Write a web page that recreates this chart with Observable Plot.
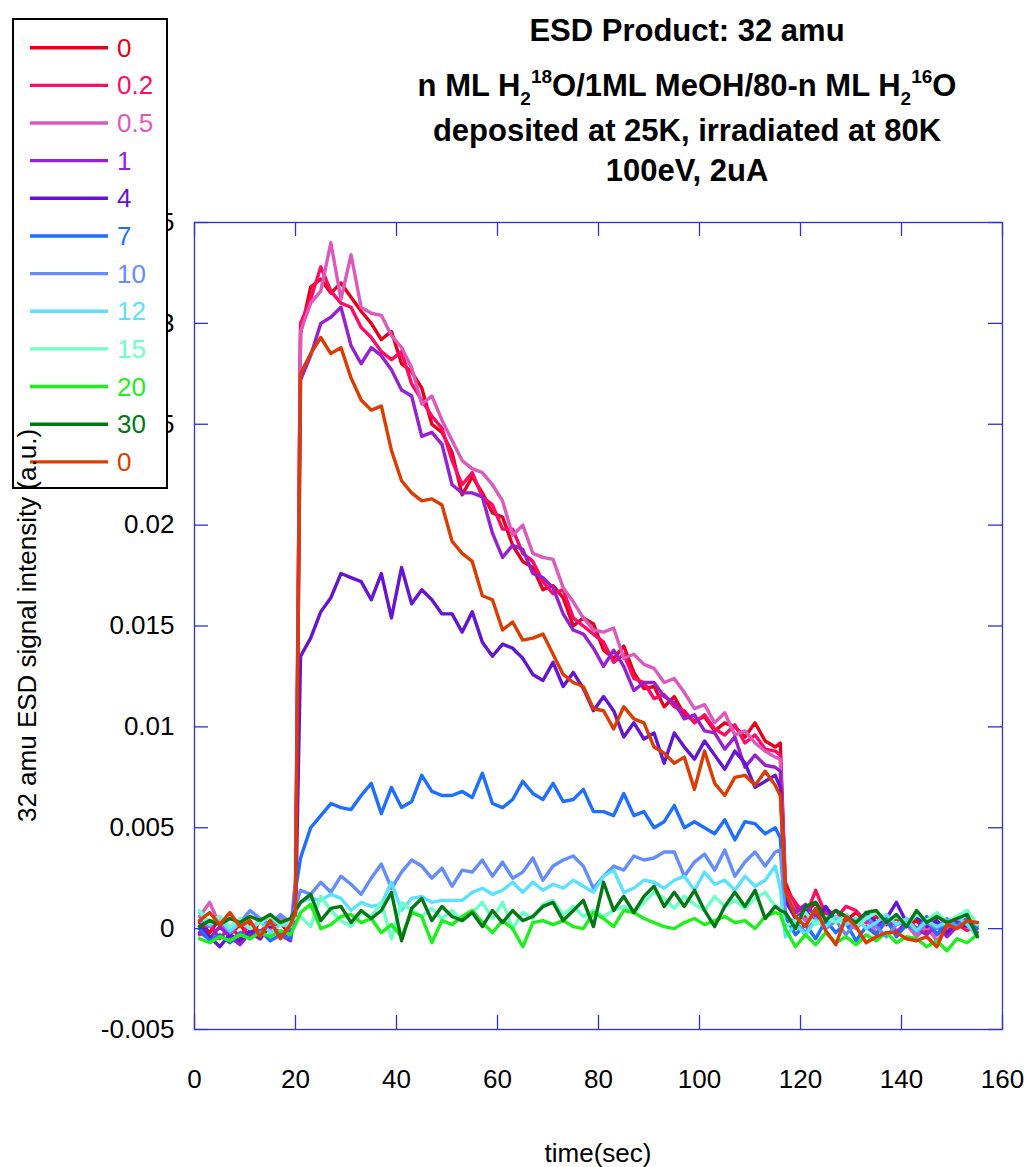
<!DOCTYPE html>
<html><head><meta charset="utf-8">
<script src="https://cdn.jsdelivr.net/npm/d3@7"></script>
<script src="https://cdn.jsdelivr.net/npm/@observablehq/plot@0.6"></script>
<style>
html,body{margin:0;padding:0;background:#fff;}
#chart{width:1028px;height:1167px;}
svg{display:block;}
</style></head><body><div id="chart"></div>
<script>
// time (sec)
const times = [1,3,5,7,9,11,13,15,17,19,20,
21,23,25,27,29,31,33,35,37,39,41,43,45,47,49,51,53,55,57,59,61,63,65,67,69,71,73,75,77,79,81,83,85,87,89,91,93,95,97,99,101,103,105,107,109,111,113,115,
116,117,119,121,123,125,127,129,131,133,135,137,139,141,143,145,147,149,151,153,155];

// series labels (n ML) and colours
const labels = ["0","0.2","0.5","1","4","7","10","12","15","20","30","0"];
const colors = ["#e6001a","#ff0a64","#dc5abe","#9620d2","#6414d2","#1e6eff","#648cff","#5ae1ff","#6effc8","#1ef01e","#007814","#dc3c00"];

// signal values in units of 0.001 (a.u.)
const UNIT = 0.001;
const y0 = [0.3,-0.2,0.5,-0.3,0.2,-0.4,0.4,-0.2,0.3,-0.3, 1.0,
29.5,31.8,32.2,31.5,32.0,31.3,30.6,30.0,
29.2,29.6,28.0,27.6,26.8,25.0,24.6,23.6,
21.5,22.4,21.6,20.6,20.4,19.0,18.2,17.9,
16.8,17.0,16.4,15.0,15.4,15.1,13.8,13.4,
14.0,12.7,11.9,12.0,11.0,11.5,10.6,10.3,
10.5,9.8,10.2,10.0,9.5,10.2,9.3,9.0,
9.2,
2.3,1.0,0.8,1.3,0.6,0.9,0.4,0.8,0.3,0.6,0.2,0.5,0.1,0.4,-0.2,0.3,0.0,0.4,0.2,0.3];
const y02 = [-0.3,0.2,-0.5,0.1,-0.4,0.3,-0.2,0.4,-0.3,0.1, 1.5,
30.0,31.2,32.8,31.6,31.0,30.8,29.8,29.3,
28.6,28.2,28.6,27.0,26.2,25.4,24.8,23.2,
22.0,22.6,21.4,21.0,19.8,19.8,18.6,18.2,
17.2,16.6,16.8,15.4,15.0,14.6,14.2,13.2,
13.6,12.4,12.2,11.4,11.6,11.0,10.8,10.2,
10.6,9.9,9.6,10.1,9.2,9.6,8.9,8.8,
8.6,
2.0,1.3,0.6,1.9,0.7,0.5,1.1,0.9,0.3,0.7,0.4,0.2,0.5,0.0,0.3,-0.3,0.1,0.2,-0.1,0.2];
const y05 = [0.6,1.3,0.2,-0.3,0.5,-0.1,0.4,0.0,0.6,-0.2, 2.5,
29.6,31.0,31.6,34.0,31.2,33.4,30.8,30.5,
30.4,29.4,28.8,27.8,26.0,26.4,25.2,24.2,
23.2,22.8,22.6,22.0,21.2,19.5,20.0,18.6,
18.4,18.3,16.9,16.2,15.4,14.8,14.7,14.9,
13.4,13.6,13.1,12.9,12.2,12.4,11.7,10.9,
11.1,10.2,10.7,9.6,9.8,9.2,8.8,8.5,
8.4,
1.8,0.9,0.4,0.8,0.2,0.6,0.3,0.0,0.5,-0.2,0.3,-0.1,0.2,-0.4,0.1,-0.6,0.0,0.3,0.9,0.1];
const y1 = [-0.2,-0.5,0.1,-0.4,-0.8,-0.2,-0.5,0.2,-0.3,-0.6, 1.0,
27.2,28.4,30.0,30.3,30.8,28.9,28.0,28.8,
28.4,27.7,26.7,26.4,24.4,24.6,24.0,22.0,
21.6,21.6,21.4,19.6,18.4,19.0,18.8,17.6,
17.4,16.9,15.6,14.8,14.6,13.9,13.0,13.8,
13.0,11.8,12.2,12.2,11.5,11.2,10.4,10.6,
9.8,9.7,8.9,9.5,8.0,8.6,8.1,8.0,
7.8,
1.6,0.8,1.2,0.6,1.0,0.3,0.7,0.2,0.5,0.1,0.4,-0.2,0.3,0.0,-0.3,0.2,-0.4,0.1,0.3,-0.2];
const y4 = [0.1,-0.4,-0.9,-0.3,-0.6,-0.1,-0.5,0.2,-0.4,-0.2, 0.5,
13.5,14.4,15.7,16.4,17.6,17.4,17.2,16.3,
17.6,15.4,17.9,16.1,16.8,16.3,15.6,15.6,
14.7,15.7,14.2,13.5,14.1,13.9,13.4,12.6,
12.3,13.2,12.0,12.7,11.9,10.8,11.5,10.8,
9.5,10.2,9.4,9.7,8.2,9.7,9.0,8.4,
9.3,8.6,7.9,8.8,8.2,7.0,7.3,7.6,
7.0,
1.4,0.5,0.9,0.3,1.1,0.4,0.6,0.2,0.8,0.3,0.5,1.3,0.3,0.6,0.1,0.4,-0.2,0.3,0.1,0.2];
const y7 = [0.0,-0.6,-0.3,-0.7,-0.2,-0.5,-0.1,-0.6,-0.3,-0.5, 1.9,
3.5,5.0,5.6,6.2,6.0,5.9,6.6,7.2,
5.7,7.0,6.0,6.3,7.6,6.8,6.6,6.6,
6.8,6.5,7.7,6.2,6.0,6.4,7.3,6.7,
6.4,7.2,6.3,6.4,6.9,5.8,5.8,5.6,
6.7,5.6,5.8,5.0,5.3,6.1,5.0,5.3,
5.0,4.7,5.4,4.4,5.3,5.2,4.7,5.0,
4.5,
0.6,-0.3,0.2,-0.5,0.4,-0.2,0.3,-0.6,0.1,-0.3,0.5,-0.4,0.2,-0.1,0.6,-0.3,0.4,0.2,0.5,0.0];
const y10 = [0.4,0.1,0.6,-0.2,0.3,0.9,0.5,0.2,0.7,0.3, 1.1,
1.9,1.7,2.3,1.8,2.6,2.2,1.7,2.5,
3.2,2.0,2.8,3.4,3.1,2.5,3.0,2.1,
2.9,2.8,3.4,2.6,3.3,2.5,2.8,3.5,
2.4,3.1,3.4,3.6,3.1,2.0,2.6,3.1,
2.9,3.6,3.4,3.5,3.8,3.8,2.6,3.3,
3.7,2.9,3.9,2.6,3.3,3.8,3.1,3.8,
3.9,
0.6,0.3,-0.2,0.5,0.0,0.4,-0.3,0.3,0.6,0.1,-0.4,0.2,0.4,-0.2,0.3,0.0,0.5,0.1,0.4,0.2];
const y12 = [0.8,0.2,0.5,-0.1,0.3,0.0,0.4,-0.2,0.2,0.1, 0.8,
1.3,1.5,1.4,1.7,1.5,0.9,1.3,1.1,
1.2,2.3,0.9,1.5,1.6,1.3,1.4,1.4,
1.4,1.8,2.0,1.7,1.9,2.3,1.8,2.3,
1.9,2.2,2.0,2.4,2.1,1.8,2.6,2.9,
1.8,2.0,2.4,2.3,2.0,2.4,2.6,1.9,
2.8,2.2,2.4,1.9,2.6,2.1,2.4,3.1,
2.0,
-0.4,0.2,-0.3,0.4,0.1,0.6,0.2,0.5,0.0,0.3,0.7,0.2,0.5,-0.1,0.4,0.1,0.3,0.6,0.2,-0.4];
const y15 = [0.9,0.3,0.6,0.1,0.5,0.0,0.3,0.6,0.2,0.4, 0.5,
0.6,0.1,1.6,0.9,0.4,0.1,0.8,0.6,
1.3,-0.5,1.3,0.9,0.6,1.0,0.5,0.9,
0.4,0.8,1.3,0.5,1.3,0.0,0.8,0.5,
1.2,1.4,0.7,1.1,0.6,0.9,0.6,0.9,
1.1,0.8,1.3,1.8,1.5,1.0,1.6,1.2,
0.9,1.6,1.1,1.4,1.0,1.5,1.8,1.1,
1.0,
0.1,0.4,0.8,0.2,0.6,0.3,0.7,0.1,0.5,0.8,0.3,0.6,0.2,0.7,0.4,0.8,0.3,0.6,0.9,0.2];
const y20 = [-0.5,-0.7,-0.4,-0.6,-0.3,-0.5,-0.2,-0.4,-0.1,-0.3, 0.2,
0.8,1.2,0.0,0.2,0.6,0.7,0.3,0.5,
-0.2,0.2,-0.4,0.8,0.6,-0.7,0.4,0.2,
0.6,0.9,0.3,-0.2,0.4,0.0,-0.9,0.3,
0.4,0.2,0.4,0.1,0.0,0.8,0.5,0.1,
0.9,0.8,0.5,0.3,0.1,0.0,0.3,0.5,
0.2,0.4,0.6,0.3,0.4,0.0,0.6,0.8,
0.7,
0.0,-0.9,-0.3,-0.8,-0.2,-0.7,-0.4,-0.8,-0.3,-0.6,-0.2,-0.7,-0.4,-0.5,-0.9,-0.6,-1.1,-0.5,-0.7,-0.3];
const y30 = [0.1,0.4,0.2,0.5,0.3,0.6,0.4,0.7,0.3,0.5, 0.9,
1.3,1.7,0.4,1.0,1.1,0.3,0.9,0.5,
0.9,1.8,-0.6,1.0,1.5,0.4,1.1,0.6,
0.4,0.8,0.1,0.9,0.3,0.9,0.4,0.6,
1.1,1.3,0.4,0.9,1.4,0.1,2.3,0.9,
1.6,0.8,1.6,2.1,1.1,1.8,1.1,1.9,
0.9,0.1,1.1,1.8,1.1,1.9,0.5,1.1,
0.9,
0.8,0.0,1.1,1.3,0.4,0.9,0.6,0.3,0.8,0.9,0.3,0.7,0.1,0.9,0.3,0.6,0.3,0.5,0.7,-0.4];
const y0b = [0.4,0.8,0.2,0.8,0.1,0.4,-0.4,0.4,-0.5,0.2, 0.8,
27.5,28.5,29.3,28.5,28.8,27.3,26.2,25.7,
25.9,23.7,22.2,21.6,21.2,21.3,21.0,19.2,
18.6,18.2,16.5,16.3,14.8,15.2,14.3,14.4,
14.6,13.6,12.6,12.2,12.0,10.9,10.8,9.9,
11.0,10.4,10.2,9.0,8.7,8.2,8.5,6.9,
8.8,7.2,6.6,7.5,7.6,7.1,7.8,7.1,
6.6,
1.9,0.6,0.1,1.0,-0.1,-0.8,0.6,0.1,-0.7,-0.4,-0.2,-0.2,-0.5,-0.6,-0.4,-0.9,0.2,0.0,0.4,0.3];

const seriesValues = [y0,y02,y05,y1,y4,y7,y10,y12,y15,y20,y30,y0b];

// axis ticks
const xTicks = [0,20,40,60,80,100,120,140,160];
const yTicks = [-0.005,0,0.005,0.01,0.015,0.02,0.025,0.03,0.035];

// text
const titleLine1 = "ESD Product: 32 amu";
const titleLine2 = [["n ML H",""],["2","sub"],["18","sup"],["O/1ML MeOH/80-n ML H",""],["2","sub"],["16","sup"],["O",""]];
const titleLine3 = "deposited at 25K, irradiated at 80K";
const titleLine4 = "100eV, 2uA";
const xLabel = "time(sec)";
const yLabel = "32 amu ESD signal intensity (a.u.)";

// ---- build ----
const rows = [];
seriesValues.forEach((vals, s) => times.forEach((t, i) => {
  if (vals[i] != null) rows.push({series: s, t: t, v: vals[i] * UNIT});
}));

const W = 1028, H = 1167, ML = 194, MR = 26, MT = 222, MB = 138;
const FW = W - ML - MR, FH = H - MT - MB;
const AX = "#2f2fe0";
const TL = 14;
const FONT = "'Liberation Sans', Arial, Helvetica, sans-serif";

const lineMarks = seriesValues.map((_, s) =>
  Plot.line(rows.filter(r => r.series === s), {x: "t", y: "v", stroke: colors[s], strokeWidth: 3.4}));

const svg = Plot.plot({
  width: W, height: H,
  marginLeft: ML, marginRight: MR, marginTop: MT, marginBottom: MB,
  style: {fontFamily: FONT, fontSize: "26px", background: "white", color: "black"},
  x: {domain: [0, 160]},
  y: {domain: [-0.005, 0.035]},
  marks: [
    ...lineMarks,
    Plot.frame({stroke: AX, strokeWidth: 1.3}),
    Plot.tickX(xTicks, {x: d => d, stroke: AX, strokeWidth: 1.3, insetTop: FH - TL}),
    Plot.tickX(xTicks, {x: d => d, stroke: AX, strokeWidth: 1.3, insetBottom: FH - TL}),
    Plot.tickY(yTicks, {y: d => d, stroke: AX, strokeWidth: 1.3, insetRight: FW - TL}),
    Plot.tickY(yTicks, {y: d => d, stroke: AX, strokeWidth: 1.3, insetLeft: FW - TL}),
    Plot.axisX({ticks: xTicks, tickSize: 0, tickPadding: 40, tickFormat: d => String(d), label: null, fontSize: 26}),
    Plot.axisY({ticks: yTicks, tickSize: 0, tickPadding: 20, tickFormat: d => String(d), label: null, fontSize: 26})
  ]
});
document.getElementById("chart").appendChild(svg);

const root = d3.select(svg);

// title
const tg = root.append("g").attr("font-family", FONT).attr("font-weight", "bold")
  .attr("font-size", 31).attr("text-anchor", "middle").attr("fill", "black");
tg.append("text").attr("x", 687).attr("y", 41).text(titleLine1);
const t2 = tg.append("text").attr("x", 687).attr("y", 96);
let shift = 0;
titleLine2.forEach(([txt, kind]) => {
  const sp = t2.append("tspan").text(txt);
  let target = kind === "sub" ? 9 : kind === "sup" ? -13 : 0;
  sp.attr("dy", target - shift);
  shift = target;
  if (kind) sp.attr("font-size", 19);
});
tg.append("text").attr("x", 687).attr("y", 141).text(titleLine3);
tg.append("text").attr("x", 687).attr("y", 181).text(titleLine4);

// axis labels
root.append("text").attr("x", ML + FW / 2).attr("y", 1153).attr("dy", "0.35em")
  .attr("text-anchor", "middle").attr("font-family", FONT).attr("font-size", 26).attr("fill", "black").text(xLabel);

// legend
const lg = root.append("g").attr("font-family", FONT).attr("font-size", 26).attr("text-anchor", "start");
lg.append("rect").attr("x", 13).attr("y", 19).attr("width", 154).attr("height", 469)
  .attr("fill", "white").attr("stroke", "black").attr("stroke-width", 2);
labels.forEach((lab, i) => {
  const y = 47.7 + i * 37.65;
  lg.append("line").attr("x1", 30).attr("x2", 108).attr("y1", y).attr("y2", y)
    .attr("stroke", colors[i]).attr("stroke-width", 3.4);
  lg.append("text").attr("x", 117).attr("y", y).attr("dy", "0.35em")
    .attr("text-anchor", "start").attr("fill", colors[i]).text(lab);
});

// y label on top
root.append("text").attr("transform", `translate(27,${MT + FH / 2}) rotate(-90)`)
  .attr("text-anchor", "middle").attr("dy", "0.35em").attr("font-family", FONT)
  .attr("font-size", 26).attr("fill", "black").text(yLabel);
</script></body></html>
